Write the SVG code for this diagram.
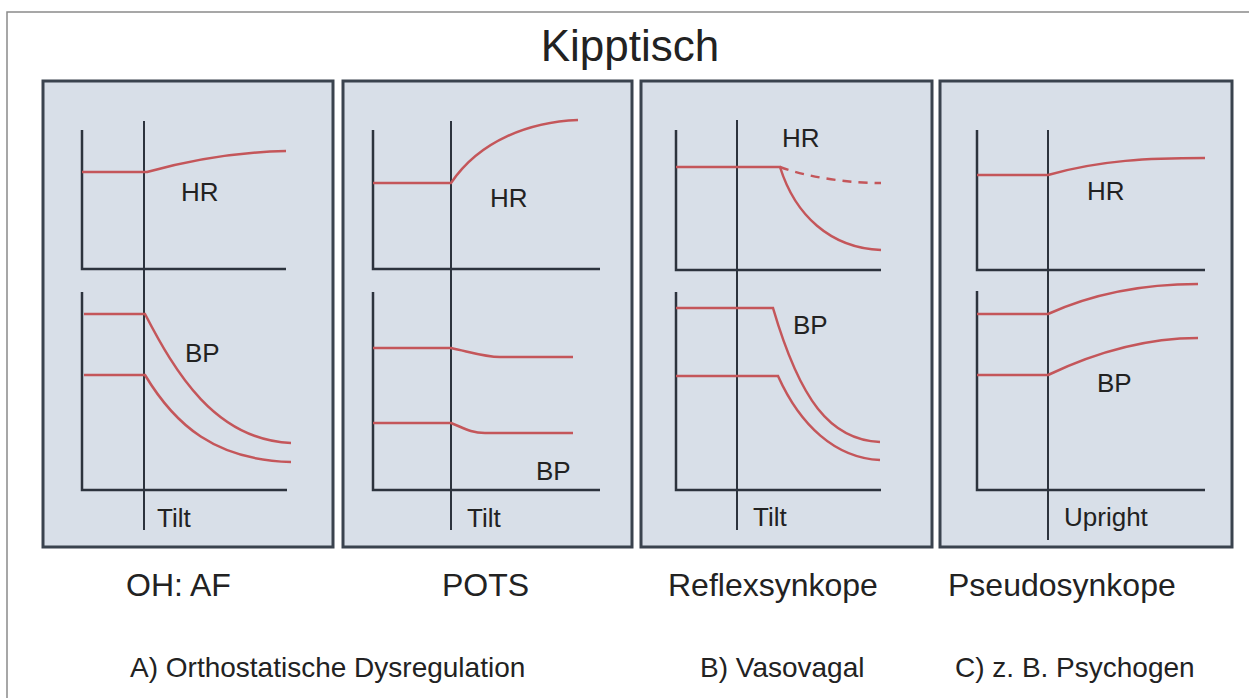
<svg xmlns="http://www.w3.org/2000/svg" width="1249" height="698" viewBox="0 0 1249 698">
<style>
text{font-family:"Liberation Sans",Arial,sans-serif;fill:#222}
.panel{fill:#d8dfe8;stroke:#3a434e;stroke-width:3}
.ax{fill:none;stroke:#2c333d;stroke-width:2.5}
.tl{fill:none;stroke:#2c333d;stroke-width:2}
.cv{fill:none;stroke:#c4565a;stroke-width:2.5}
.dash{stroke-dasharray:9,7}
.lbl{font-size:26px}
.sub{font-size:32px}
.cap{font-size:28px}
</style>
<rect x="0" y="0" width="1249" height="698" fill="#fff"/>
<rect x="7" y="12" width="1260" height="700" fill="none" stroke="#8a8a8a" stroke-width="1.5"/>
<text x="630" y="61" font-size="44" text-anchor="middle">Kipptisch</text>

<g id="panel-oh">
<rect class="panel" x="43" y="81" width="290" height="466"/>
<path class="ax" d="M82,130 V269 H286"/>
<path class="ax" d="M82,292 V490 H287"/>
<path class="tl" d="M144,121 V530"/>
<path class="cv" d="M82,172 H147 C190,160 240,152 286,151"/>
<path class="cv" d="M84,314 H145 C175,372 215,440 291,443"/>
<path class="cv" d="M84,375 H145 C175,425 215,460 291,462"/>
<text class="lbl" x="181" y="201">HR</text>
<text class="lbl" x="185" y="362">BP</text>
<text class="lbl" x="157" y="527">Tilt</text>
</g>

<g id="panel-pots">
<rect class="panel" x="343" y="81" width="289" height="466"/>
<path class="ax" d="M373,130 V269 H600"/>
<path class="ax" d="M373,292 V490 H600"/>
<path class="tl" d="M451,121 V530"/>
<path class="cv" d="M373,183 H451 C480,140 530,122 578,120"/>
<path class="cv" d="M373,348 H451 C470,352 485,357 500,357 H573"/>
<path class="cv" d="M373,423 H451 C462,427 470,433 485,433 H573"/>
<text class="lbl" x="490" y="207">HR</text>
<text class="lbl" x="536" y="480">BP</text>
<text class="lbl" x="467" y="527">Tilt</text>
</g>

<g id="panel-reflex">
<rect class="panel" x="641" y="81" width="291" height="466"/>
<path class="ax" d="M676,130 V270 H881"/>
<path class="ax" d="M676,292 V490 H881"/>
<path class="tl" d="M737,120 V530"/>
<path class="cv" d="M676,167 H780 C795,215 830,248 881,250"/>
<path class="cv dash" d="M780,167 C810,178 850,183 881,183"/>
<path class="cv" d="M676,308 H773 C800,400 830,440 880,442"/>
<path class="cv" d="M676,376 H778 C800,425 835,458 880,460"/>
<text class="lbl" x="782" y="147">HR</text>
<text class="lbl" x="793" y="334">BP</text>
<text class="lbl" x="753" y="526">Tilt</text>
</g>

<g id="panel-pseudo">
<rect class="panel" x="940" y="81" width="292" height="466"/>
<path class="ax" d="M977,130 V270 H1205"/>
<path class="ax" d="M977,291 V490 H1205"/>
<path class="tl" d="M1048,130 V540"/>
<path class="cv" d="M977,175 H1048 C1100,160 1150,158 1205,158"/>
<path class="cv" d="M977,314 H1048 C1090,295 1140,284 1198,284"/>
<path class="cv" d="M977,375 H1048 C1090,355 1140,338 1198,338"/>
<text class="lbl" x="1087" y="200">HR</text>
<text class="lbl" x="1097" y="392">BP</text>
<text class="lbl" x="1064" y="526">Upright</text>
</g>

<g id="captions">
<text class="sub" x="126" y="596">OH: AF</text>
<text class="sub" x="442" y="596">POTS</text>
<text class="sub" x="668" y="596">Reflexsynkope</text>
<text class="sub" x="948" y="596">Pseudosynkope</text>
<text class="cap" x="130" y="677">A) Orthostatische Dysregulation</text>
<text class="cap" x="700" y="677">B) Vasovagal</text>
<text class="cap" x="955" y="677">C) z. B. Psychogen</text>
</g>
</svg>
